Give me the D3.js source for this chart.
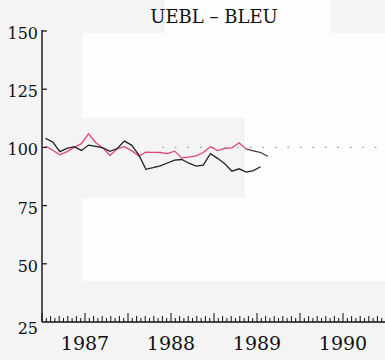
<!DOCTYPE html>
<html>
<head>
<meta charset="utf-8">
<script src="https://cdn.jsdelivr.net/npm/d3@7"></script>
<style>
  body { margin: 0; background: #f4f4f4; }
  text { font-family: "DejaVu Serif", "Liberation Serif", serif; fill: #111; }
</style>
</head>
<body>
<svg class="chart" width="385" height="360"></svg>
<script>
// monthly series, first point = July 1986
const startYear = 1986, startMonth = 6;
const blackValues = [103.9, 102.3, 98.2, 99.6, 100.3, 98.7, 101.0, 100.4, 99.8, 98.3,
    99.5, 102.7, 101.0, 96.8, 90.6, 91.3, 92.1, 93.3, 94.5, 94.8,
    93.2, 92.0, 92.4, 97.3, 95.3, 93.0, 89.8, 90.8, 89.4, 90.0, 91.7];
const pinkValues = [100.6, 98.8, 96.8, 98.2, 100.0, 101.6, 105.8, 102.0, 99.8, 96.5,
    99.4, 100.3, 98.6, 96.3, 98.0, 97.9, 97.8, 97.3, 98.4, 95.5,
    95.8, 96.4, 97.8, 100.3, 98.6, 99.6, 99.8, 102.0, 99.3];
// continuation of the pink series, drawn in black
const tailStart = 28;
const tailValues = [99.3, 98.5, 97.8, 96.2];
const yTicks = [150, 125, 100, 75, 50, 25];
const yearLabels = [1987, 1988, 1989, 1990];
const baseline = 100;
const baselineFrom = 1987.9;

const svg = d3.select(".chart");

// faint scan background patches
const patches = [[82, 33, 303, 85], [165, 0, 165, 33], [245, 118, 140, 80], [82, 198, 303, 83]];
svg.selectAll(".patch").data(patches).enter().append("rect")
    .attr("x", d => d[0]).attr("y", d => d[1])
    .attr("width", d => d[2]).attr("height", d => d[3])
    .attr("fill", "#fdfdfd");

const x = d3.scaleLinear().domain([1986.5, 1990.5]).range([42, 386]);
const y = d3.scaleLinear().domain([25, 150]).range([322, 31]);

const toYear = i => startYear + (startMonth + i + 0.5) / 12;

// y axis
svg.append("line")
    .attr("x1", 42).attr("x2", 42).attr("y1", y(150) - 1).attr("y2", y(25))
    .attr("stroke", "#111").attr("stroke-width", 1.4);
svg.selectAll(".ytick").data(yTicks.filter(d => d !== 25)).enter().append("line")
    .attr("x1", 42).attr("x2", 47)
    .attr("y1", d => y(d)).attr("y2", d => y(d))
    .attr("stroke", "#111").attr("stroke-width", 1.2);
svg.selectAll(".ylab").data(yTicks).enter().append("text")
    .attr("x", 38)
    .attr("y", d => y(d) + (d === 25 ? 12 : 8))
    .attr("text-anchor", "end")
    .attr("font-size", 16)
    .text(d => d);

// x axis with dense ticks
svg.append("line")
    .attr("x1", 42).attr("x2", 385).attr("y1", y(25)).attr("y2", y(25))
    .attr("stroke", "#111").attr("stroke-width", 1.4);
const xTicks = d3.range(0, 81).map(k => ({ k: k, t: 1986.5 + k / 20 }));
svg.selectAll(".xtick").data(xTicks).enter().append("line")
    .attr("x1", d => x(d.t)).attr("x2", d => x(d.t))
    .attr("y1", y(25))
    .attr("y2", d => y(25) - (d.k % 10 === 0 ? 9 : d.k % 2 === 0 ? 6 : 4))
    .attr("stroke", "#111").attr("stroke-width", 1);
svg.selectAll(".xlab").data(yearLabels).enter().append("text")
    .attr("x", d => x(d))
    .attr("y", 350)
    .attr("text-anchor", "middle")
    .attr("font-size", 19)
    .text(d => d);

// title
svg.append("text")
    .attr("x", 214).attr("y", 23)
    .attr("text-anchor", "middle")
    .attr("font-size", 18)
    .text("UEBL \u2013 BLEU");

// dotted reference at 100
svg.append("line")
    .attr("x1", x(baselineFrom)).attr("x2", 385)
    .attr("y1", y(baseline)).attr("y2", y(baseline))
    .attr("stroke", "#999").attr("stroke-width", 1.3)
    .attr("stroke-dasharray", "1.5,11");

const line = d3.line().x(d => x(d[0])).y(d => y(d[1]));

svg.append("path")
    .datum(pinkValues.map((v, i) => [toYear(i), v]))
    .attr("d", line)
    .attr("fill", "none").attr("stroke", "#e0457b").attr("stroke-width", 1.3);

svg.append("path")
    .datum(tailValues.map((v, i) => [toYear(tailStart + i), v]))
    .attr("d", line)
    .attr("fill", "none").attr("stroke", "#333").attr("stroke-width", 1.2);

svg.append("path")
    .datum(blackValues.map((v, i) => [toYear(i), v]))
    .attr("d", line)
    .attr("fill", "none").attr("stroke", "#222").attr("stroke-width", 1.3);
</script>
</body>
</html>
